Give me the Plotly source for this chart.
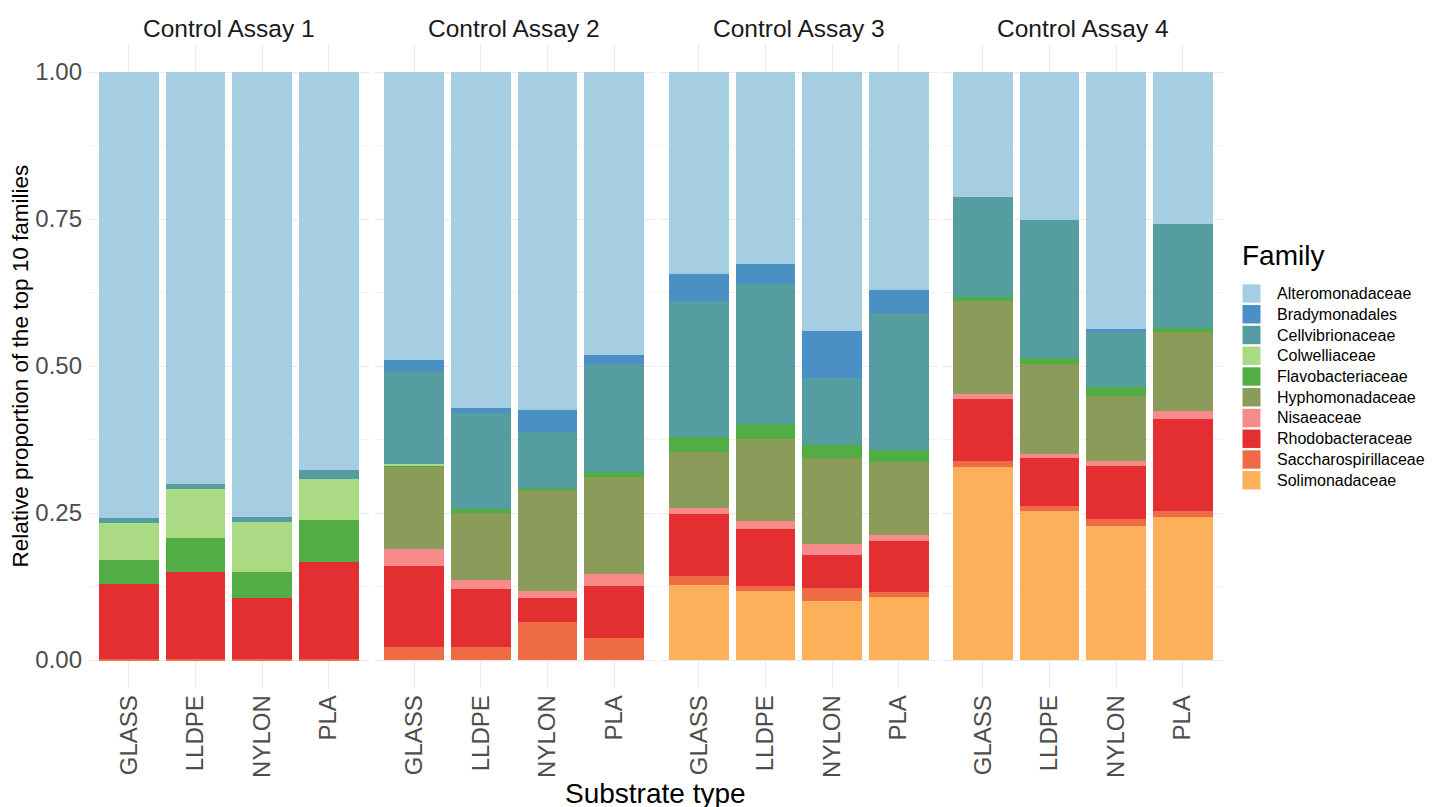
import plotly.graph_objects as go

assays = ["Control Assay 1", "Control Assay 2", "Control Assay 3", "Control Assay 4"]
substrates = ["GLASS", "LLDPE", "NYLON", "PLA"]

# stacking order bottom -> top
families = ["Solimonadaceae", "Saccharospirillaceae", "Rhodobacteraceae", "Nisaeaceae",
            "Hyphomonadaceae", "Flavobacteriaceae", "Colwelliaceae", "Cellvibrionaceae",
            "Bradymonadales", "Alteromonadaceae"]

colors = {
    "Alteromonadaceae": "#A6CEE3",
    "Bradymonadales": "#4A90C4",
    "Cellvibrionaceae": "#569DA2",
    "Colwelliaceae": "#AADA84",
    "Flavobacteriaceae": "#52AD44",
    "Hyphomonadaceae": "#8A9B5A",
    "Nisaeaceae": "#F98A8A",
    "Rhodobacteraceae": "#E32F31",
    "Saccharospirillaceae": "#EF6B45",
    "Solimonadaceae": "#FCB05A",
}

# values per assay: [GLASS, LLDPE, NYLON, PLA]
Solimonadaceae = [
    [0, 0, 0, 0],
    [0, 0, 0, 0],
    [0.128, 0.118, 0.101, 0.108],
    [0.329, 0.253, 0.228, 0.243],
]
Saccharospirillaceae = [
    [0.002, 0.002, 0.002, 0.002],
    [0.022, 0.022, 0.064, 0.038],
    [0.015, 0.008, 0.021, 0.008],
    [0.010, 0.009, 0.011, 0.010],
]
Rhodobacteraceae = [
    [0.128, 0.148, 0.104, 0.165],
    [0.138, 0.098, 0.042, 0.088],
    [0.106, 0.096, 0.057, 0.086],
    [0.105, 0.082, 0.091, 0.157],
]
Nisaeaceae = [
    [0, 0, 0, 0],
    [0.028, 0.016, 0.012, 0.021],
    [0.010, 0.014, 0.018, 0.010],
    [0.008, 0.006, 0.009, 0.014],
]
Hyphomonadaceae = [
    [0, 0, 0, 0],
    [0.142, 0.114, 0.171, 0.165],
    [0.095, 0.140, 0.147, 0.124],
    [0.158, 0.154, 0.110, 0.134],
]
Flavobacteriaceae = [
    [0.040, 0.057, 0.044, 0.071],
    [0.001, 0.006, 0.004, 0.007],
    [0.025, 0.026, 0.021, 0.022],
    [0.008, 0.009, 0.015, 0.007],
]
Colwelliaceae = [
    [0.063, 0.083, 0.085, 0.070],
    [0.002, 0, 0, 0],
    [0, 0, 0, 0],
    [0, 0, 0, 0],
]
Cellvibrionaceae = [
    [0.009, 0.010, 0.008, 0.015],
    [0.158, 0.164, 0.094, 0.184],
    [0.232, 0.238, 0.114, 0.232],
    [0.169, 0.235, 0.096, 0.177],
]
Bradymonadales = [
    [0, 0, 0, 0],
    [0.019, 0.008, 0.038, 0.016],
    [0.045, 0.033, 0.081, 0.040],
    [0, 0, 0.003, 0],
]
Alteromonadaceae = [
    [0.758, 0.700, 0.757, 0.677],
    [0.490, 0.572, 0.575, 0.481],
    [0.344, 0.327, 0.440, 0.370],
    [0.213, 0.252, 0.437, 0.258],
]

values = {
    "Solimonadaceae": Solimonadaceae,
    "Saccharospirillaceae": Saccharospirillaceae,
    "Rhodobacteraceae": Rhodobacteraceae,
    "Nisaeaceae": Nisaeaceae,
    "Hyphomonadaceae": Hyphomonadaceae,
    "Flavobacteriaceae": Flavobacteriaceae,
    "Colwelliaceae": Colwelliaceae,
    "Cellvibrionaceae": Cellvibrionaceae,
    "Bradymonadales": Bradymonadales,
    "Alteromonadaceae": Alteromonadaceae,
}

W, H = 1436, 807
OFF = 8  # page body margin offset of the plot div
FONT = "Liberation Sans, Arial, sans-serif"
GRID = "#EBEBEB"
TICKC = "#4D4D4D"

# panel pixel extents (screen pixels)
panels_px = [(89, 368.5), (374.5, 654), (659, 938.5), (943, 1222.5)]
ytop_px, ybot_px = 42.6, 689.4


def px_x(v):
    return (v - OFF) / W


def px_y(v):
    return (H - (v - OFF)) / H


ydom = [px_y(ybot_px), px_y(ytop_px)]

fig = go.Figure()

for i, assay in enumerate(assays):
    xa = "x" if i == 0 else f"x{i+1}"
    ya = "y" if i == 0 else f"y{i+1}"
    for fam in families:
        fig.add_trace(go.Bar(
            x=substrates, y=values[fam][i], name=fam,
            marker=dict(color=colors[fam], line=dict(width=0)),
            width=0.9, xaxis=xa, yaxis=ya,
            legendgroup=fam, showlegend=False,
        ))

layout = dict(
    width=W, height=H, barmode="stack",
    paper_bgcolor="white", plot_bgcolor="white",
    margin=dict(l=0, r=0, t=0, b=0, autoexpand=False),
    font=dict(family=FONT, color="#1A1A1A"),
    showlegend=False,
)

annotations = []
shapes = []
for i, assay in enumerate(assays):
    x0, x1 = panels_px[i]
    sfx = "" if i == 0 else str(i + 1)
    layout["xaxis" + sfx] = dict(
        domain=[px_x(x0), px_x(x1)], type="category", categoryorder="array",
        categoryarray=substrates, range=[-0.6, 3.6],
        showgrid=True, gridcolor=GRID, gridwidth=1.2, zeroline=False,
        showline=False, ticks="", tickangle=-90,
        tickfont=dict(size=24, family=FONT, color=TICKC),
        ticklabelstandoff=0, automargin=False,
        anchor="y" + sfx,
    )
    layout["yaxis" + sfx] = dict(
        domain=ydom, range=[-0.05, 1.05],
        tickvals=[0, 0.25, 0.5, 0.75, 1.0],
        ticktext=["0.00", "0.25", "0.50", "0.75", "1.00"],
        showticklabels=(i == 0),
        showgrid=True, gridcolor=GRID, gridwidth=1.2, zeroline=False,
        minor=dict(tickvals=[0.125, 0.375, 0.625, 0.875], showgrid=True,
                   gridcolor="#F2F2F2", gridwidth=0.8),
        ticks="", tickfont=dict(size=24, family=FONT, color=TICKC),
        ticklabelstandoff=6, automargin=False,
        anchor="x" + sfx,
    )
    if i > 0:
        layout["yaxis" + sfx]["matches"] = "y"
    annotations.append(dict(
        text=assay, x=px_x((x0 + x1) / 2), y=px_y(29), xref="paper", yref="paper",
        showarrow=False, xanchor="center", yanchor="middle",
        font=dict(size=24.5, family=FONT, color="#1A1A1A"),
    ))

annotations.append(dict(
    text="Substrate type", x=px_x(655.75), y=px_y(793), xref="paper", yref="paper",
    showarrow=False, xanchor="center", yanchor="middle",
    font=dict(size=28, family=FONT, color="#000000"),
))
annotations.append(dict(
    text="Relative proportion of the top 10 families", x=px_x(19.5), y=px_y(366),
    xref="paper", yref="paper", textangle=-90,
    showarrow=False, xanchor="center", yanchor="middle",
    font=dict(size=22.5, family=FONT, color="#000000"),
))

# legend (drawn to match ggplot guide: keys top -> bottom)
annotations.append(dict(
    text="Family", x=px_x(1240), y=px_y(256), xref="paper", yref="paper",
    showarrow=False, xanchor="left", yanchor="middle",
    font=dict(size=28, family=FONT, color="#000000"),
))
legend_order = list(reversed(families))
for k, fam in enumerate(legend_order):
    cy = 293.5 + 20.75 * k
    shapes.append(dict(
        type="rect", xref="paper", yref="paper",
        x0=px_x(1242.5), x1=px_x(1260.5), y0=px_y(cy - 9.2), y1=px_y(cy + 9.2),
        fillcolor=colors[fam], line=dict(width=0),
    ))
    annotations.append(dict(
        text=fam, x=px_x(1275), y=px_y(cy), xref="paper", yref="paper",
        showarrow=False, xanchor="left", yanchor="middle",
        font=dict(size=16, family=FONT, color="#000000"),
    ))

layout["annotations"] = annotations
layout["shapes"] = shapes

fig.update_layout(**layout)
fig.write_html("out.html")
